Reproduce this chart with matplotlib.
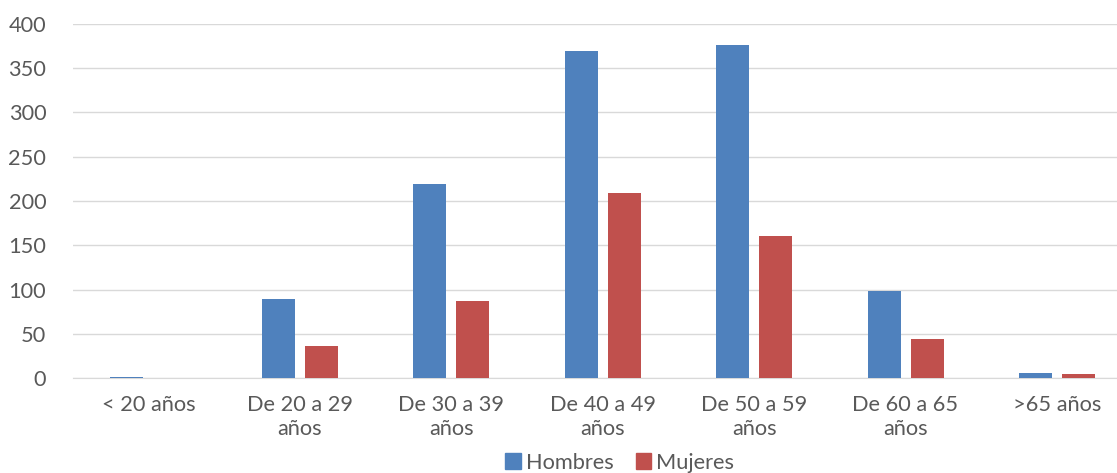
import matplotlib
matplotlib.use("Agg")
import matplotlib.pyplot as plt
import numpy as np
from matplotlib.patches import Patch

# Datos
categorias = ["< 20 años", "De 20 a 29\naños", "De 30 a 39\naños", "De 40 a 49\naños",
              "De 50 a 59\naños", "De 60 a 65\naños", ">65 años"]
hombres = [1, 89, 219, 369, 376, 98, 6]
mujeres = [0, 36, 87, 209, 160, 44, 4]
y_ticks = [0, 50, 100, 150, 200, 250, 300, 350, 400]

AZUL = "#4F81BD"
ROJO = "#C0504D"
TEXTO = "#595959"

plt.rcParams["font.family"] = ["Lato", "DejaVu Sans"]

fig = plt.figure(figsize=(11.17, 4.73), dpi=100)
ax = fig.add_axes([72.7 / 1117, 95 / 473, 1060 / 1117, 354 / 473])

x = np.arange(len(categorias))
ancho = 0.218
desp = 0.142
ax.bar(x - desp, hombres, width=ancho, color=AZUL, zorder=3)
ax.bar(x + desp, mujeres, width=ancho, color=ROJO, zorder=3)

ax.set_xlim(-0.5, len(categorias) - 0.5)
ax.set_ylim(0, 400)
ax.set_yticks(y_ticks)
ax.set_xticks(x)
ax.set_xticklabels(categorias, linespacing=1.3)
ax.yaxis.grid(True, color="#D9D9D9", linewidth=1, zorder=0)
ax.tick_params(axis="both", length=0, labelsize=15.7, colors=TEXTO)
ax.tick_params(axis="x", pad=12)
ax.tick_params(axis="y", pad=19)
for s in ["top", "right", "left"]:
    ax.spines[s].set_visible(False)
ax.spines["bottom"].set_color("#D9D9D9")

handles = [Patch(color=AZUL, label="Hombres"), Patch(color=ROJO, label="Mujeres")]
fig.legend(handles=handles, loc="center", bbox_to_anchor=(0.555, 0.022), ncol=2,
           frameon=False, fontsize=15.7, labelcolor=TEXTO, handlelength=0.7,
           handleheight=0.7, handletextpad=0.25, columnspacing=1.0)

fig.savefig("out.png", dpi=100)
